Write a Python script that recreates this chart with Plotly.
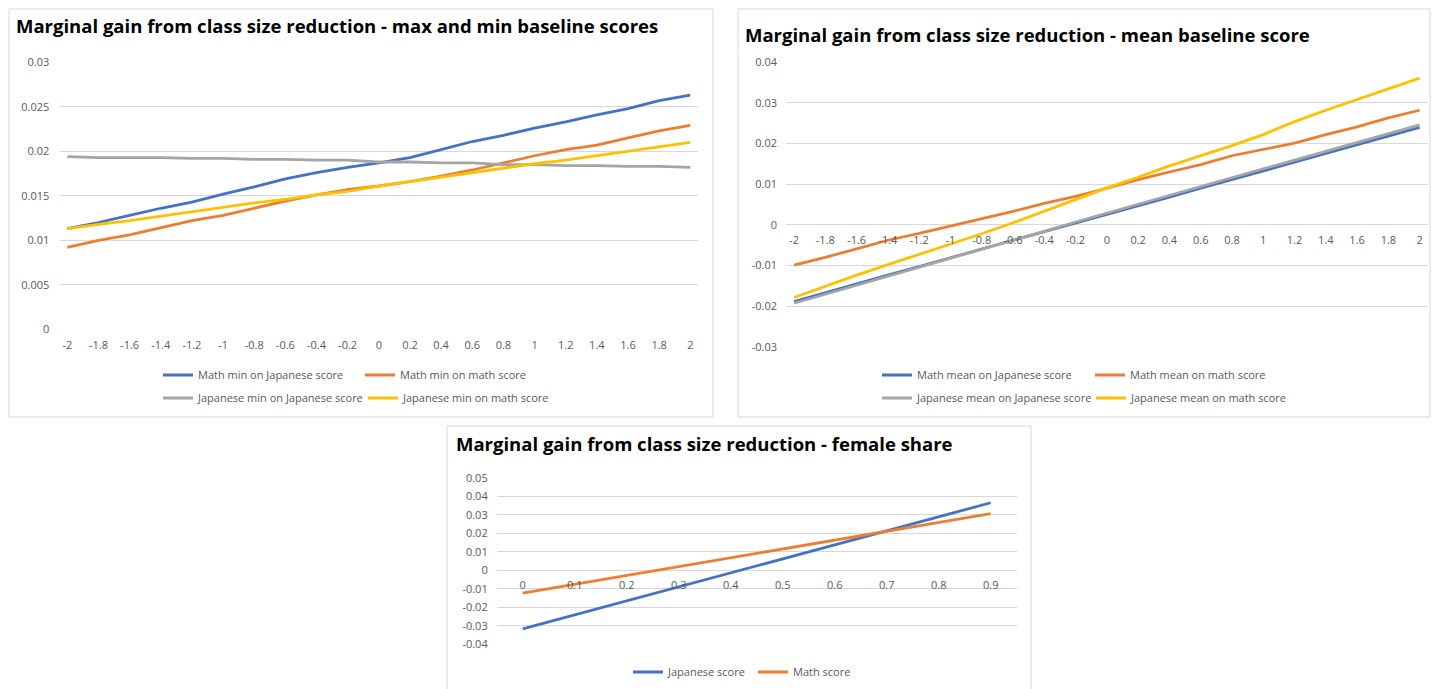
import plotly.graph_objects as go

# ---------------- data ----------------
z_labels = ["-2", "-1.8", "-1.6", "-1.4", "-1.2", "-1", "-0.8", "-0.6", "-0.4", "-0.2",
            "0", "0.2", "0.4", "0.6", "0.8", "1", "1.2", "1.4", "1.6", "1.8", "2"]

min_math_on_jpn = [0.0113, 0.0120, 0.0128, 0.0136, 0.0143, 0.0152, 0.0160, 0.0169, 0.0176, 0.0182,
                   0.0187, 0.0193, 0.0202, 0.0211, 0.0218, 0.0226, 0.0233, 0.0241, 0.0248, 0.0257, 0.0263]
min_math_on_math = [0.0092, 0.0100, 0.0106, 0.0114, 0.0122, 0.0128, 0.0136, 0.0144, 0.0151, 0.0157,
                    0.0161, 0.0166, 0.0172, 0.0179, 0.0187, 0.0195, 0.0202, 0.0207, 0.0215, 0.0223, 0.0229]
min_jpn_on_jpn = [0.0194, 0.0193, 0.0193, 0.0193, 0.0192, 0.0192, 0.0191, 0.0191, 0.0190, 0.0190,
                  0.0188, 0.0188, 0.0187, 0.0187, 0.0185, 0.0185, 0.0184, 0.0184, 0.0183, 0.0183, 0.0182]
min_jpn_on_math = [0.0113, 0.0118, 0.0122, 0.0127, 0.0132, 0.0137, 0.0142, 0.0146, 0.0151, 0.0155,
                   0.0161, 0.0166, 0.0171, 0.0176, 0.0181, 0.0186, 0.0190, 0.0195, 0.0200, 0.0205, 0.0210]

mean_math_on_jpn = [-0.0189, -0.0167, -0.0146, -0.0124, -0.0103, -0.0081, -0.0060, -0.0038, -0.0017, 0.0004,
                    0.0025, 0.0047, 0.0068, 0.0090, 0.0111, 0.0133, 0.0154, 0.0176, 0.0197, 0.0219, 0.0240]
mean_math_on_math = [-0.0099, -0.0080, -0.0059, -0.0038, -0.0021, -0.0003, 0.0015, 0.0033, 0.0053, 0.0070,
                     0.0090, 0.0111, 0.0130, 0.0148, 0.0170, 0.0185, 0.0201, 0.0222, 0.0241, 0.0263, 0.0282]
mean_jpn_on_jpn = [-0.0193, -0.0171, -0.0149, -0.0127, -0.0104, -0.0082, -0.0060, -0.0038, -0.0016, 0.0007,
                   0.0029, 0.0051, 0.0072, 0.0094, 0.0116, 0.0138, 0.0159, 0.0181, 0.0203, 0.0224, 0.0246]
mean_jpn_on_math = [-0.0179, -0.0151, -0.0124, -0.0098, -0.0073, -0.0048, -0.0022, 0.0005, 0.0033, 0.0062,
                    0.0091, 0.0117, 0.0145, 0.0170, 0.0195, 0.0222, 0.0254, 0.0282, 0.0308, 0.0335, 0.0361]

share_labels = ["0", "0.1", "0.2", "0.3", "0.4", "0.5", "0.6", "0.7", "0.8", "0.9"]
share_jpn = [-0.0317, -0.0241, -0.0165, -0.0089, -0.0013, 0.0063, 0.0139, 0.0214, 0.0290, 0.0366]
share_math = [-0.0123, -0.0075, -0.0027, 0.0021, 0.0068, 0.0116, 0.0164, 0.0212, 0.0259, 0.0307]

y1_ticks = [0, 0.005, 0.01, 0.015, 0.02, 0.025, 0.03]
y1_text = ["0", "0.005", "0.01", "0.015", "0.02", "0.025", "0.03"]
y2_ticks = [-0.03, -0.02, -0.01, 0, 0.01, 0.02, 0.03, 0.04]
y2_text = ["-0.03", "-0.02", "-0.01", "0", "0.01", "0.02", "0.03", "0.04"]
y3_ticks = [-0.04, -0.03, -0.02, -0.01, 0, 0.01, 0.02, 0.03, 0.04, 0.05]
y3_text = ["-0.04", "-0.03", "-0.02", "-0.01", "0", "0.01", "0.02", "0.03", "0.04", "0.05"]

# ---------------- style ----------------
W, H = 1436, 689
BLUE, ORANGE, GRAY, GOLD = "#4472C4", "#ED7D31", "#A5A5A5", "#FFC000"
GRID = "#D9D9D9"
LABEL = "#595959"
FONT = "Open Sans"
LW = 2.8


def px(x):
    return x / W


def py(y):
    return 1 - y / H


def dom_x(a, b):
    return [px(a), px(b)]


def dom_y(top, bottom):
    return [py(bottom), py(top)]


fig = go.Figure()

series = [
    # (x, y, name, colour, axis suffix, legend)
    (z_labels, min_math_on_jpn, "Math min on Japanese score", BLUE, "", "legend"),
    (z_labels, min_math_on_math, "Math min on math score", ORANGE, "", "legend"),
    (z_labels, min_jpn_on_jpn, "Japanese min on Japanese score", GRAY, "", "legend2"),
    (z_labels, min_jpn_on_math, "Japanese min on math score", GOLD, "", "legend2"),
    (z_labels, mean_math_on_jpn, "Math mean on Japanese score", BLUE, "2", "legend3"),
    (z_labels, mean_math_on_math, "Math mean on math score", ORANGE, "2", "legend3"),
    (z_labels, mean_jpn_on_jpn, "Japanese mean on Japanese score", GRAY, "2", "legend4"),
    (z_labels, mean_jpn_on_math, "Japanese mean on math score", GOLD, "2", "legend4"),
    (share_labels, share_jpn, "Japanese score", BLUE, "3", "legend5"),
    (share_labels, share_math, "Math score", ORANGE, "3", "legend5"),
]
for xs, ys, name, col, ax, leg in series:
    fig.add_trace(go.Scatter(
        x=xs, y=ys, name=name, mode="lines",
        line=dict(color=col, width=LW),
        xaxis="x" + ax, yaxis="y" + ax, legend=leg,
    ))

tickfont = dict(family=FONT, size=11, color=LABEL)

# panel geometry (pixels)
p1 = dict(x0=59.3, x1=698.3, y0=62.3, y1=329.3, rng=[0, 0.03])
p2 = dict(x0=786.0, x1=1427.7, y0=62.3, y1=346.7, rng=[-0.03, 0.04])
p3 = dict(x0=496.7, x1=1016.7, y0=478.0, y1=644.3, rng=[-0.04, 0.05])


def zero_pos(p):
    d = dom_y(p["y0"], p["y1"])
    r0, r1 = p["rng"]
    return d[0] + (0 - r0) / (r1 - r0) * (d[1] - d[0])


xcommon = dict(type="category", showgrid=False, showline=False, zeroline=False,
               tickfont=tickfont, ticks="", fixedrange=True, automargin=False)
ycommon = dict(showgrid=True, gridcolor=GRID, gridwidth=1, showline=False, zeroline=False,
               tickfont=tickfont, ticks="", ticklabelstandoff=9, fixedrange=True,
               automargin=False)

edge = 8 / 31.15

fig.update_layout(
    xaxis=dict(xcommon, domain=dom_x(p1["x0"], p1["x1"]), anchor="y",
               range=[-edge, 20 + edge], ticklabelstandoff=8),
    yaxis=dict(ycommon, domain=dom_y(p1["y0"], p1["y1"]), anchor="x",
               range=p1["rng"], tickvals=y1_ticks, ticktext=y1_text),
    xaxis2=dict(xcommon, domain=dom_x(p2["x0"], p2["x1"]), anchor="free",
                position=zero_pos(p2), range=[-edge, 20 + edge], ticklabelstandoff=7),
    yaxis2=dict(ycommon, domain=dom_y(p2["y0"], p2["y1"]), anchor="free",
                position=px(p2["x0"]), range=p2["rng"], tickvals=y2_ticks, ticktext=y2_text),
    xaxis3=dict(xcommon, domain=dom_x(p3["x0"], p3["x1"]), anchor="free",
                position=zero_pos(p3), range=[-0.5, 9.5], ticklabelstandoff=7),
    yaxis3=dict(ycommon, domain=dom_y(p3["y0"], p3["y1"]), anchor="free",
                position=px(p3["x0"]), range=p3["rng"], tickvals=y3_ticks, ticktext=y3_text),
)

legend_common = dict(orientation="h", font=dict(family=FONT, size=11, color=LABEL),
                     bgcolor="rgba(0,0,0,0)", borderwidth=0, xanchor="left", yanchor="middle",
                     entrywidthmode="pixels", itemwidth=30, tracegroupgap=0)
fig.update_layout(
    legend=dict(legend_common, x=px(158), y=py(375), entrywidth=157),
    legend2=dict(legend_common, x=px(158), y=py(398), entrywidth=160),
    legend3=dict(legend_common, x=px(877), y=py(375), entrywidth=168),
    legend4=dict(legend_common, x=px(877), y=py(398), entrywidth=169),
    legend5=dict(legend_common, x=px(628), y=py(672), entrywidth=80),
)

# chart frames
frames = [(9, 9, 713, 417), (738, 9, 1430, 417), (447, 426, 1031, 700)]
for x0, y0, x1, y1 in frames:
    fig.add_shape(type="rect", xref="paper", yref="paper",
                  x0=px(x0), x1=px(x1), y0=py(y1), y1=py(y0),
                  line=dict(color=GRID, width=1), fillcolor="rgba(0,0,0,0)", layer="below")

titles = [
    ("Marginal gain from class size reduction - max and min baseline scores", 14, 25),
    ("Marginal gain from class size reduction - mean baseline score", 743, 34),
    ("Marginal gain from class size reduction - female share", 454, 443),
]
for text, x, y in titles:
    fig.add_annotation(text="<b>%s</b>" % text, xref="paper", yref="paper",
                       x=px(x), y=py(y), xanchor="left", yanchor="middle", showarrow=False,
                       font=dict(family=FONT, size=18.5, color="#000000"))

fig.update_layout(
    width=W, height=H,
    margin=dict(l=0, r=0, t=0, b=0, pad=0, autoexpand=False),
    paper_bgcolor="white", plot_bgcolor="white",
    showlegend=True,
)

fig.write_html("out.html", config={"displayModeBar": False})
